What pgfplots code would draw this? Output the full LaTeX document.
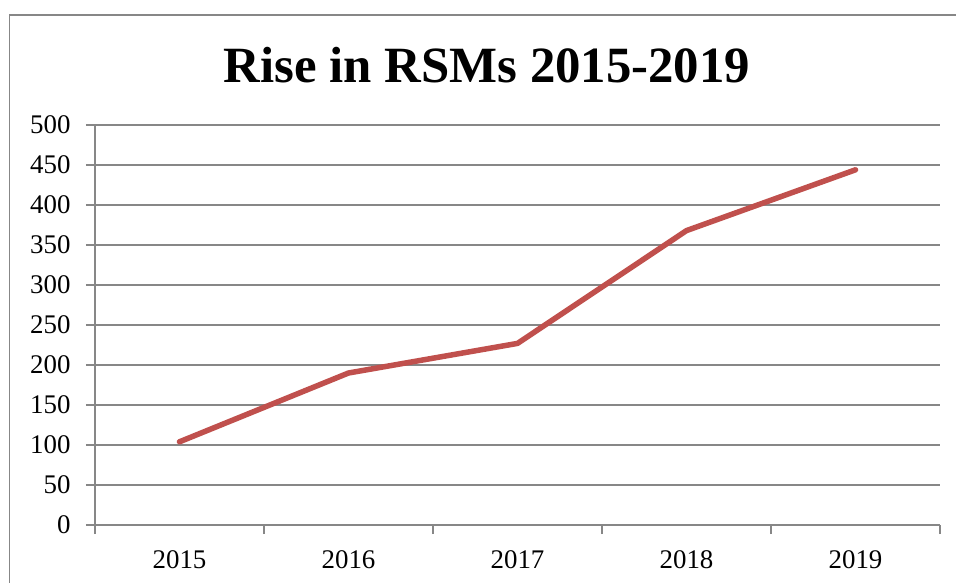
\documentclass[border=0pt]{standalone}
\usepackage{fontspec}
\setmainfont{Liberation Serif}
\usepackage{pgfplots}
\pgfplotsset{compat=1.18}
\definecolor{gridgray}{HTML}{878787}
\definecolor{linered}{HTML}{C0504D}
\begin{document}
\begin{tikzpicture}
\begin{axis}[
  at={(95bp,58bp)}, anchor=south west,
  scale only axis, width=845bp, height=400bp,
  xmin=-0.5, xmax=4.5, ymin=0, ymax=500,
  axis line style={draw=none},
  ytick={0,50,...,500},
  ymajorgrids, grid style={gridgray, line width=1.3bp},
  xtick={-0.5,0.5,1.5,2.5,3.5,4.5},
  x tick label as interval,
  xticklabels={2015,2016,2017,2018,2019},
  xtick pos=bottom, ytick pos=left,
  tick align=outside,
  major tick length=9bp,
  tick style={gridgray, line width=1.3bp},
  tick label style={font=\fontsize{27}{27}\selectfont},
  yticklabel style={xshift=-12bp},
  xticklabel style={yshift=-13bp},
  /pgf/number format/assume math mode=true,
  clip=false,
]
\draw[gridgray, line width=1.3bp] (axis cs:-0.5,0) -- (axis cs:-0.5,500);
\addplot[linered, line width=5.5bp, line cap=round, line join=round]
  coordinates {(0,104) (1,190) (2,227) (3,368) (4,444)};
\end{axis}
\node[anchor=base, font=\fontsize{51}{51}\selectfont\bfseries] at (487bp,500bp) {Rise in RSMs 2015-2019};
\draw[gridgray, line width=1.3bp] (9.5bp,-10bp) -- (9.5bp,568bp) -- (970bp,568bp);
\pgfresetboundingbox
\useasboundingbox (0,0) rectangle (956bp,583bp);
\end{tikzpicture}
\end{document}
